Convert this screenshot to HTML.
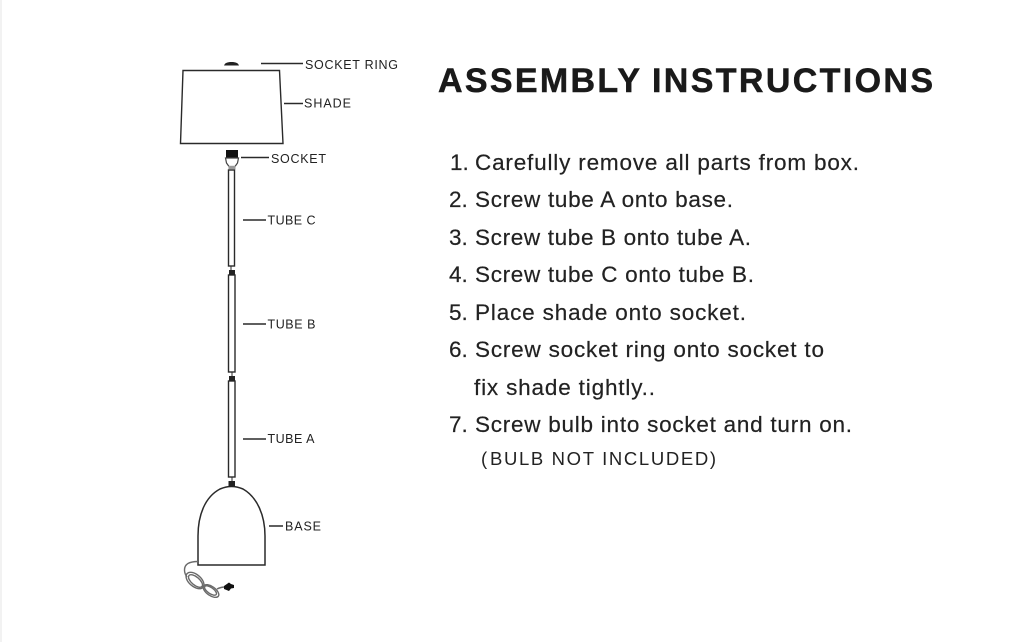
<!DOCTYPE html>
<html>
<head>
<meta charset="utf-8">
<style>
html,body{margin:0;padding:0;background:#fff;width:1024px;height:642px;overflow:hidden}
svg{display:block}
text{font-family:"Liberation Sans","Noto Sans CJK SC",sans-serif;fill:#222}
.b{font-size:22.5px;stroke:#222;stroke-width:.2px}
.l{font-size:12.5px}
</style>
</head>
<body>
<svg width="1024" height="642" viewBox="0 0 1024 642" xmlns="http://www.w3.org/2000/svg">
<rect width="1024" height="642" fill="#fff"/>
<rect x="0" y="0" width="2" height="642" fill="#f2f2f2"/>
<g fill="none" stroke="#2a2a2a" stroke-width="1.400">
<path d="M183 70.500H279.500L283 143.500H180.500Z"/>
<path d="M261 63.500H303M284 103.500H303M241 157.500H269M243 220H266M243 324H266M243 439H266M269 526H283"/>
<rect x="228.500" y="170" width="6" height="96"/>
<rect x="228.500" y="275" width="6.500" height="97"/>
<rect x="228.500" y="381" width="6.500" height="96"/>
<path d="M198 565V536C198 515 205 497 220 489Q231.500 484 243 489C257 497 265 515 265 536V565Z" stroke-width="1.500"/>
<path d="M231 266V270M232 372V376M232 477V482" stroke-width="1"/>
</g>
<path d="M224 65.500C225 63 227 62 231.500 62C236 62 238 63 239 65.500Z" fill="#222"/>
<rect x="226" y="150" width="12" height="8" fill="#111"/>
<path d="M225.500 158H238.500L237.500 163L235 166.500H229L226.500 163Z" fill="#fff" stroke="#444" stroke-width="1.200"/>
<rect x="228.500" y="166" width="7" height="3.500" fill="#999"/>
<rect x="229" y="270" width="6" height="5" fill="#222"/>
<rect x="229" y="376" width="6" height="5" fill="#222"/>
<rect x="228.500" y="481" width="6.500" height="6" fill="#222"/>
<g fill="none" stroke="#6a6a6a" stroke-width="1.400">
<path d="M198 561.500C189 561.500 184.500 564 184.500 570C184.500 573 185.500 575 187 577"/>
<ellipse cx="195" cy="580.500" rx="10.500" ry="6" transform="rotate(40 195 580.500)"/>
<ellipse cx="195.500" cy="581" rx="8.500" ry="4" transform="rotate(40 195.500 581)"/>
<ellipse cx="211" cy="591" rx="9" ry="4.500" transform="rotate(35 211 591)"/>
<ellipse cx="210.500" cy="590.500" rx="7" ry="3" transform="rotate(35 210.500 590.500)"/>
<path d="M217 589C220 587.500 222 587 225 587"/>
</g>
<path d="M224 586L229 582.500L231 584L234 585V588L231 588.500L229 591L224 589Z" fill="#111"/>
<g>
<text class="l" x="305" y="69" textLength="93" lengthAdjust="spacing">SOCKET RING</text>
<text class="l" x="304" y="107.500" textLength="47" lengthAdjust="spacing">SHADE</text>
<text class="l" x="271" y="163" textLength="55" lengthAdjust="spacing">SOCKET</text>
<text class="l" x="267.500" y="224.500" textLength="48" lengthAdjust="spacing">TUBE C</text>
<text class="l" x="267.500" y="328.500" textLength="48" lengthAdjust="spacing">TUBE B</text>
<text class="l" x="267.500" y="443" textLength="47" lengthAdjust="spacing">TUBE A</text>
<text class="l" x="285" y="530.500" textLength="36" lengthAdjust="spacing">BASE</text>
</g>
<text x="438" y="92" font-size="34" font-weight="700" textLength="202" lengthAdjust="spacing" style="fill:#1a1a1a;stroke:#1a1a1a;stroke-width:.5px">ASSEMBLY</text>
<text x="652" y="92" font-size="34" font-weight="700" textLength="281" lengthAdjust="spacing" style="fill:#1a1a1a;stroke:#1a1a1a;stroke-width:.5px">INSTRUCTIONS</text>
<g>
<text class="b" x="450" y="170">1.</text>
<text class="b" x="475" y="170" textLength="384" lengthAdjust="spacing">Carefully remove all parts from box.</text>
<text class="b" x="449" y="207">2.</text>
<text class="b" x="475" y="207" textLength="258" lengthAdjust="spacing">Screw tube A onto base.</text>
<text class="b" x="449" y="245">3.</text>
<text class="b" x="475" y="245" textLength="276" lengthAdjust="spacing">Screw tube B onto tube A.</text>
<text class="b" x="449" y="282">4.</text>
<text class="b" x="475" y="282" textLength="279" lengthAdjust="spacing">Screw tube C onto tube B.</text>
<text class="b" x="449" y="320">5.</text>
<text class="b" x="475" y="320" textLength="271" lengthAdjust="spacing">Place shade onto socket.</text>
<text class="b" x="449" y="357">6.</text>
<text class="b" x="475" y="357" textLength="349" lengthAdjust="spacing">Screw socket ring onto socket to</text>
<text class="b" x="474" y="395" textLength="181" lengthAdjust="spacing">fix shade tightly..</text>
<text class="b" x="449" y="432">7.</text>
<text class="b" x="475" y="432" textLength="377" lengthAdjust="spacing">Screw bulb into socket and turn on.</text>
<text x="490" y="465" font-size="18.500" textLength="226" lengthAdjust="spacing">BULB NOT INCLUDED)</text>
<text x="481" y="465" font-size="18.500">(</text>
</g>
</svg>
</body>
</html>
